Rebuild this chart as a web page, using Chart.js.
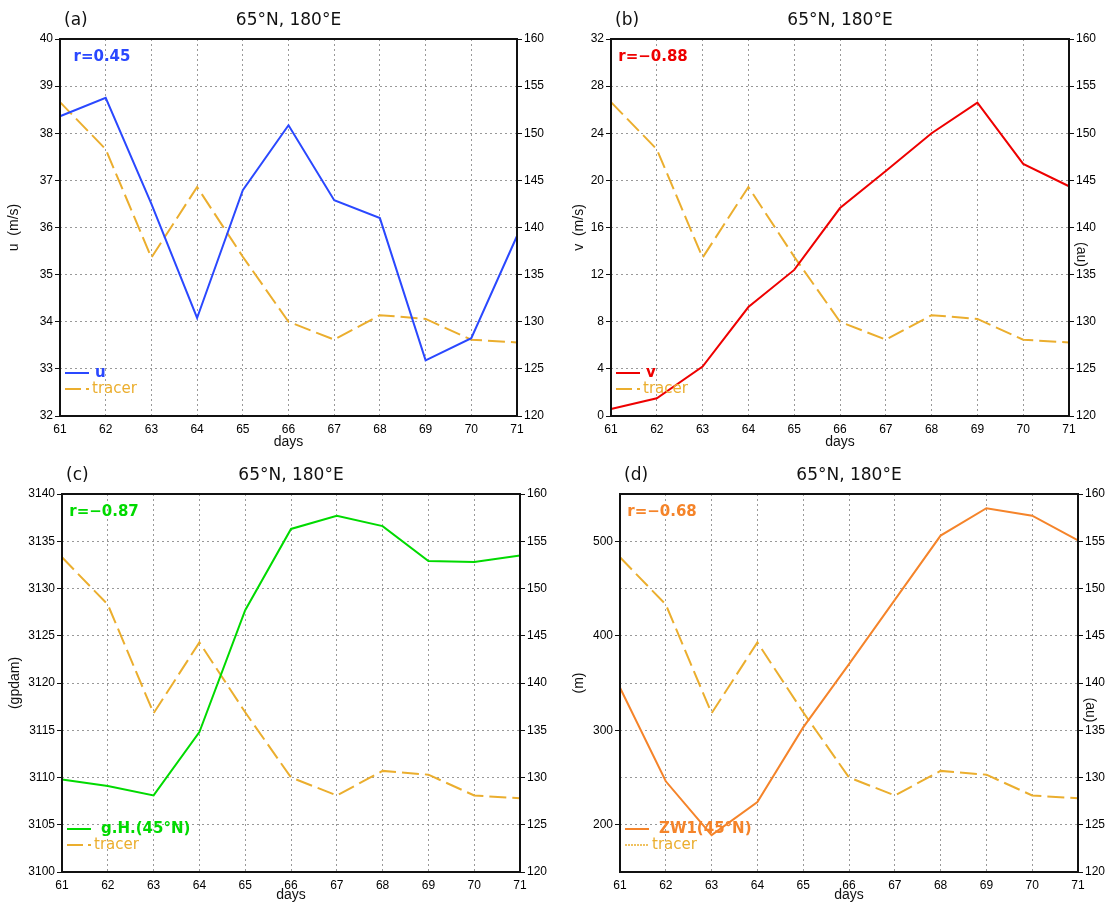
<!DOCTYPE html>
<html>
<head>
<meta charset="utf-8">
<script src="https://cdn.jsdelivr.net/npm/chart.js@4.4.1/dist/chart.umd.min.js"></script>
<style>
  html, body { margin: 0; padding: 0; background: #fff; }
  #wrap { position: relative; width: 1107px; height: 906px; overflow: hidden; }
  .panel { position: absolute; }
  .panel canvas { display: block; }
</style>
</head>
<body>
<div id="wrap">
  <div class="panel" style="left:0;top:0"><canvas id="pa" width="553" height="453"></canvas></div>
  <div class="panel" style="left:553px;top:0"><canvas id="pb" width="554" height="453"></canvas></div>
  <div class="panel" style="left:0;top:453px"><canvas id="pc" width="553" height="453"></canvas></div>
  <div class="panel" style="left:553px;top:453px"><canvas id="pd" width="554" height="453"></canvas></div>
</div>
<script>
// days of the run
const days = [61, 62, 63, 64, 65, 66, 67, 68, 69, 70, 71];

// tracer at 65N, 180E (au), plotted against the right axis of every panel
const tracer = [153.3, 148.3, 136.8, 144.3, 136.9, 130.0, 128.1, 130.7, 130.3, 128.1, 127.8];

// zonal wind u (m/s)
const uWind = [38.36, 38.75, 36.50, 34.08, 36.79, 38.17, 36.58, 36.20, 33.18, 33.65, 35.82];
// meridional wind v (m/s)
const vWind = [0.6, 1.5, 4.2, 9.25, 12.4, 17.65, 20.8, 24.0, 26.6, 21.4, 19.5];
// geopotential height at 45N (gpdam)
const geoHeight = [3109.8, 3109.1, 3108.1, 3114.8, 3127.7, 3136.3, 3137.7, 3136.6, 3132.9, 3132.8, 3133.5];
// zonal wave-1 amplitude at 45N (m)
const zw1 = [345, 246, 189, 224, 303, 370, 438, 506, 535, 527, 501];

// correlation labels
const corrLabels = ['r=0.45', 'r=\u22120.88', 'r=\u22120.87', 'r=\u22120.68'];
const panelLetters = ['(a)', '(b)', '(c)', '(d)'];
const placeLabel = '65\u00b0N, 180\u00b0E';

// right-axis (tracer) range
const tracerAxis = { min: 120, max: 160, step: 5 };

const TRACER_COLOR = '#EBAE2E';
const TICK_FONT = { family: 'Liberation Sans', size: 12 };
const TITLE_FONT = { family: 'Liberation Sans', size: 14 };

// draws frame, headings, correlation text and the in-plot legend
const panelDecor = {
  id: 'panelDecor',
  afterDraw(chart, args, o) {
    const { ctx, chartArea: a } = chart;
    ctx.save();
    ctx.strokeStyle = '#111';
    ctx.lineWidth = 2;
    ctx.strokeRect(a.left, a.top, a.right - a.left, a.bottom - a.top);

    ctx.fillStyle = '#111';
    ctx.textBaseline = 'middle';
    ctx.font = '17px "DejaVu Sans"';
    ctx.textAlign = 'left';
    ctx.fillText(o.letter, a.left + 4, a.top - 18);
    ctx.textAlign = 'center';
    ctx.fillText(o.place, (a.left + a.right) / 2, a.top - 18);

    const main = chart.data.datasets[0];
    ctx.font = 'bold 15px "DejaVu Sans"';
    ctx.fillStyle = main.borderColor;
    ctx.fillText(o.corr, a.left + 42, a.top + 18);

    // legend rows
    const rows = [
      { ds: main, y: a.bottom - 43, gap: o.mainGap, font: 'bold 15px "DejaVu Sans"' },
      { ds: chart.data.datasets[1], y: a.bottom - 27, gap: 3, font: '15px "DejaVu Sans"', dash: o.tracerSample }
    ];
    rows.forEach(r => {
      const x0 = a.left + 5, x1 = a.left + 29;
      ctx.beginPath();
      ctx.strokeStyle = r.ds.borderColor;
      ctx.lineWidth = r.dash && r.dash.length && r.dash[0] < 4 ? 1.5 : 2;
      ctx.setLineDash(r.dash || []);
      ctx.moveTo(x0, r.y);
      ctx.lineTo(x1, r.y);
      ctx.stroke();
      ctx.setLineDash([]);
      ctx.font = r.font;
      ctx.fillStyle = r.ds.borderColor;
      ctx.textAlign = 'left';
      ctx.fillText(r.ds.label, x1 + r.gap, r.y);
    });

    if (o.rightTitle) {
      ctx.save();
      ctx.translate(a.right + 12, (a.top + a.bottom) / 2 + 27);
      ctx.rotate(Math.PI / 2);
      ctx.font = '14px "Liberation Sans"';
      ctx.fillStyle = '#111';
      ctx.textAlign = 'center';
      ctx.fillText(o.rightTitle, 0, 0);
      ctx.restore();
    }
    ctx.restore();
  }
};

function makePanel(id, p) {
  const cv = document.getElementById(id);
  const W = cv.width, H = cv.height;
  const gridCommon = { color: '#999', lineWidth: 1, tickLength: 5, tickColor: '#111', tickBorderDash: [], tickWidth: 1 };
  new Chart(cv, {
    type: 'line',
    data: {
      labels: days,
      datasets: [
        { label: p.label, data: p.values, borderColor: p.color, borderWidth: 2, pointRadius: 0, tension: 0, yAxisID: 'y', fill: false },
        { label: 'tracer', data: tracer, borderColor: TRACER_COLOR, borderWidth: 2, borderDash: [17, 6], pointRadius: 0, tension: 0, yAxisID: 'y2', fill: false }
      ]
    },
    options: {
      responsive: false,
      animation: false,
      events: [],
      layout: { padding: { top: p.area.t, left: 0, right: 0, bottom: 0 } },
      plugins: {
        legend: { display: false },
        tooltip: { enabled: false },
        panelDecor: {
          letter: p.letter, place: placeLabel, corr: p.corr,
          mainGap: p.mainGap, tracerSample: p.tracerSample, rightTitle: p.rightTitle
        }
      },
      scales: {
        x: {
          type: 'category',
          offset: false,
          ticks: { font: TICK_FONT, color: '#000', padding: 2, maxRotation: 0, autoSkip: false },
          grid: { color: '#999', lineWidth: 1, tickLength: 4, tickColor: 'rgba(0,0,0,0)', offset: false },
          border: { display: false, dash: [2, 3] },
          title: { display: true, text: 'days', font: TITLE_FONT, color: '#111', padding: { top: 0, bottom: 2 } },
          afterFit(s) { s.height = H - p.area.b; }
        },
        y: {
          position: 'left',
          min: p.yMin, max: p.yMax,
          ticks: {
            stepSize: p.yStep, font: TICK_FONT, color: '#000', padding: 2,
            callback: v => (p.labelEvery && v % p.labelEvery !== 0) ? '' : v
          },
          grid: Object.assign({}, gridCommon, {
            tickColor: c => (p.labelEvery && c.tick && c.tick.value % p.labelEvery !== 0) ? 'rgba(0,0,0,0)' : '#111'
          }),
          border: { display: false, dash: [2, 3] },
          title: { display: true, text: p.yTitle, font: TITLE_FONT, color: '#111', padding: { top: p.yTitlePad, bottom: 0 } },
          afterFit(s) { s.width = p.area.l; }
        },
        y2: {
          position: 'right',
          min: tracerAxis.min, max: tracerAxis.max,
          ticks: { stepSize: tracerAxis.step, font: TICK_FONT, color: '#000', padding: 2 },
          grid: Object.assign({}, gridCommon, { drawOnChartArea: false }),
          border: { display: false },
          afterFit(s) { s.width = W - p.area.r; }
        }
      }
    },
    plugins: [panelDecor]
  });
}

makePanel('pa', {
  area: { l: 60, r: 517, t: 39, b: 416 },
  values: uWind, label: 'u', color: '#2A48FF',
  yMin: 32, yMax: 40, yStep: 1, yTitle: 'u  (m/s)', yTitlePad: 6,
  letter: panelLetters[0], corr: corrLabels[0], mainGap: 6, tracerSample: [16, 5]
});
makePanel('pb', {
  area: { l: 58, r: 516, t: 39, b: 416 },
  values: vWind, label: 'v', color: '#EE0000',
  yMin: 0, yMax: 32, yStep: 4, yTitle: 'v  (m/s)', yTitlePad: 18,
  letter: panelLetters[1], corr: corrLabels[1], mainGap: 6, tracerSample: [16, 5], rightTitle: '(au)'
});
makePanel('pc', {
  area: { l: 62, r: 520, t: 41, b: 419 },
  values: geoHeight, label: 'g.H.(45\u00b0N)', color: '#00DA00',
  yMin: 3100, yMax: 3140, yStep: 5, yTitle: '(gpdam)', yTitlePad: 7,
  letter: panelLetters[2], corr: corrLabels[2], mainGap: 10, tracerSample: [16, 5]
});
makePanel('pd', {
  area: { l: 67, r: 525, t: 41, b: 419 },
  values: zw1, label: 'ZW1(45\u00b0N)', color: '#F5842A',
  yMin: 150, yMax: 550, yStep: 50, labelEvery: 100, yTitle: '(m)', yTitlePad: 18,
  letter: panelLetters[3], corr: corrLabels[3], mainGap: 10, tracerSample: [2, 1], rightTitle: '(au)'
});
</script>
</body>
</html>
